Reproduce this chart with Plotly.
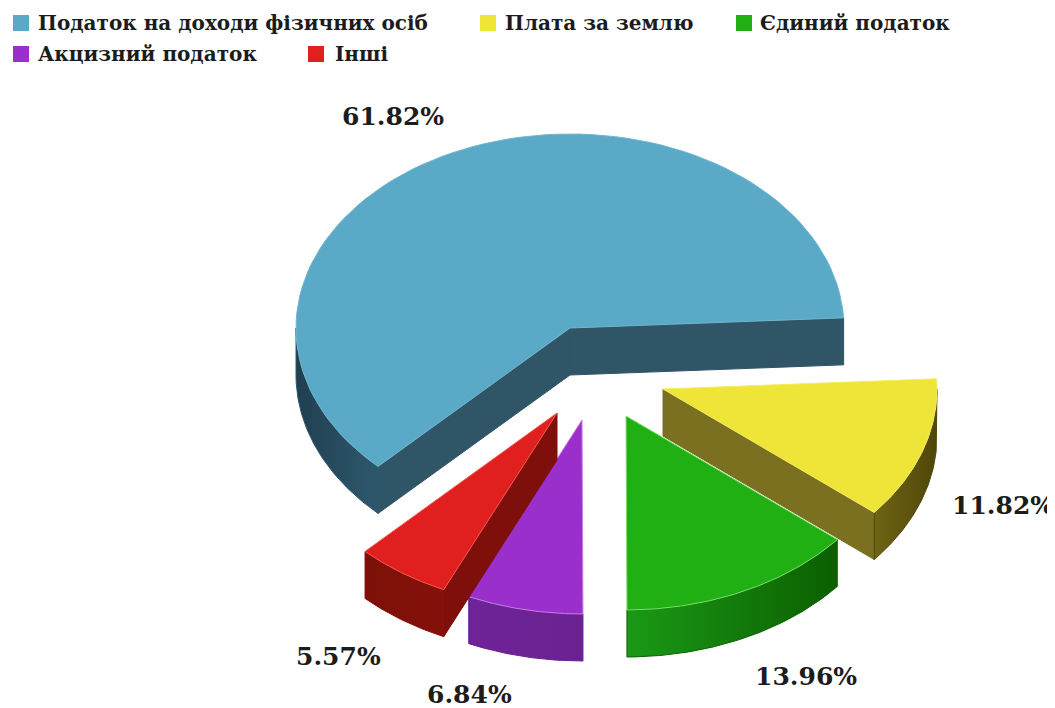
import numpy as np
import plotly.graph_objects as go

# data
names = ["Податок на доходи фізичних осіб", "Плата за землю", "Єдиний податок", "Акцизний податок", "Інші"]
shares = [61.82, 11.82, 13.96, 6.84, 5.57]
pct_labels = ["61.82%", "11.82%", "13.96%", "6.84%", "5.57%"]

# colours
top_colors = ["#5AA9C7", "#EFE438", "#20B014", "#9A2FCC", "#E21F1F"]
edge_colors = ["#6FB6CF", "#F4EC62", "#7FE06A", "#C77BE8", "#F05A50"]
wall_left = ["#1F3F50", "#6E6414", "#1A9A16", "#6E2396", "#7C1008"]
wall_right = ["#2F586C", "#4F470A", "#0B5F00", "#6A2292", "#841109"]
cut_colors = ["#2F5567", "#7A7020", "#0B5F00", "#6A2292", "#7E0F0A"]

# 3d look of the pie
rx, ry, depth = 274, 194, 47
start_angle = 3
apex_x = [570, 663, 626, 582, 557]
apex_y = [328, 389, 416, 420, 413]
draw_order = [1, 2, 3, 4, 0]  # clockwise from the start angle
layer_order = [0, 1, 2, 3, 4]

label_x = [393, 1003, 806, 469, 338]
label_y = [116, 505, 676, 694, 656]
legend_x = [21, 488, 744, 21, 316]
legend_y = [23, 23, 23, 54, 54]
legend_text_x = [36, 503, 758, 36, 333]

# wedge angles, going clockwise
bounds = {}
theta = start_angle
for i in draw_order:
    bounds[i] = (theta - shares[i] / sum(shares) * 360, theta)
    theta = bounds[i][0]


def arc(i, a0, a1, drop=0):
    t = np.radians(np.linspace(a0, a1, 90))
    return apex_x[i] + rx * np.cos(t), apex_y[i] - ry * np.sin(t) + drop


def add_poly(fig, xs, ys, fill, line=None, gradient=None):
    kw = dict(fillgradient=gradient) if gradient else dict(fillcolor=fill)
    fig.add_trace(go.Scatter(
        x=list(xs), y=list(ys), mode="lines", fill="toself",
        line=dict(color=line or fill, width=1), hoverinfo="skip", showlegend=False, **kw))


fig = go.Figure()

for i in layer_order:
    a0, a1 = bounds[i]
    ax, ay = apex_x[i], apex_y[i]

    # flat cut sides
    for ang, normal in ((a0, a0 - 90), (a1, a1 + 90)):
        if np.sin(np.radians(normal)) < -0.02:
            ex = ax + rx * np.cos(np.radians(ang))
            ey = ay - ry * np.sin(np.radians(ang))
            add_poly(fig, [ax, ex, ex, ax, ax], [ay, ey, ey + depth, ay + depth, ay], cut_colors[i])

    # outer rim, only the part facing the viewer
    lo, hi = a0 % 360, (a0 % 360) + (a1 - a0)
    if lo < 180 and hi > 180:
        lo = 180
    if lo < 180:
        lo += 360
        hi += 360
    hi = min(hi, 360)
    x1, y1 = arc(i, lo, hi)
    x2, y2 = arc(i, hi, lo, depth)
    add_poly(fig, np.r_[x1, x2, x1[0]], np.r_[y1, y2, y1[0]], wall_left[i],
             line=wall_right[i],
             gradient=dict(type="horizontal", colorscale=[[0, wall_left[i]], [1, wall_right[i]]]))

    # top surface
    xt, yt = arc(i, a0, a1)
    add_poly(fig, np.r_[ax, xt, ax], np.r_[ay, yt, ay], top_colors[i], line=edge_colors[i])

# legend squares
fig.add_trace(go.Scatter(
    x=legend_x, y=legend_y, mode="markers",
    marker=dict(symbol="square", size=16, color=top_colors),
    hoverinfo="skip", showlegend=False))

for i in range(len(names)):
    fig.add_annotation(x=legend_text_x[i], y=legend_y[i], text="<b>%s</b>" % names[i], showarrow=False,
                       xanchor="left", yanchor="middle",
                       font=dict(family="DejaVu Serif", size=20, color="#1c1c1c"))
    fig.add_annotation(x=label_x[i], y=label_y[i], text="<b>%s</b>" % pct_labels[i], showarrow=False,
                       font=dict(family="DejaVu Serif", size=25, color="#1c1c1c"))

# the page has an 8px body margin, so the figure starts at (8, 8)
fig.update_xaxes(range=[8, 1055], visible=False, fixedrange=True)
fig.update_yaxes(range=[708, 8], visible=False, fixedrange=True)
fig.update_layout(width=1047, height=700, margin=dict(l=0, r=0, t=0, b=0),
                  paper_bgcolor="white", plot_bgcolor="white", showlegend=False)

fig.write_html("out.html")
